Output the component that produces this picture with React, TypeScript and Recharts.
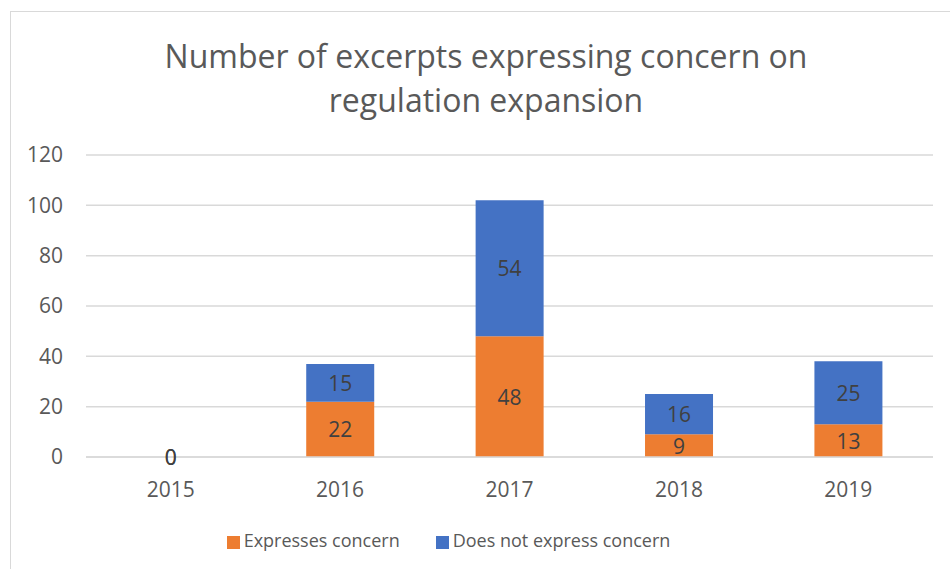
import React from 'react';
import { BarChart, Bar, XAxis, YAxis, CartesianGrid, Legend, LabelList } from 'recharts';

const years = ['2015', '2016', '2017', '2018', '2019'];
const expressesConcern = [0, 22, 48, 9, 13];
const doesNotExpress = [0, 15, 54, 16, 25];
const yTicks = [0, 20, 40, 60, 80, 100, 120];
const titleLines = ['Number of excerpts expressing concern on', 'regulation expansion'];

const data = years.map((y, i) => ({
  year: y,
  expresses: expressesConcern[i],
  notExpress: doesNotExpress[i],
}));

const FONT = '"Open Sans", "Noto Sans", sans-serif';
const seriesOrder: Record<string, number> = { expresses: 0, notExpress: 1 };

const renderLabel = (props: any) => {
  const { x, y, width, height, value } = props;
  if (value == null) return null;
  return (
    <text
      x={Number(x) + Number(width) / 2}
      y={Number(y) + Number(height) / 2}
      textAnchor="middle"
      dominantBaseline="central"
      fill="#404040"
      fontSize={21}
      fontFamily={FONT}
    >
      {value}
    </text>
  );
};

export default function App() {
  return (
    <div style={{ position: 'absolute', left: 0, top: 0, width: 950, height: 569, overflow: 'hidden', background: '#fff', fontFamily: FONT }}>
      <div style={{ position: 'absolute', left: 10, top: 11, width: 1000, height: 700, border: '1px solid #d9d9d9', boxSizing: 'border-box' }} />
      <div style={{ position: 'absolute', left: 0, top: 34, width: 972, textAlign: 'center', color: '#595959', fontSize: 32, lineHeight: '44px' }}>
        {titleLines.map((t) => (
          <div key={t}>{t}</div>
        ))}
      </div>
      <div style={{ position: 'absolute', left: 0, top: 0 }}>
        <BarChart
          width={950}
          height={569}
          data={data}
          margin={{ top: 155, right: 17, bottom: 17, left: 0 }}
          barCategoryGap="30%"
        >
          <CartesianGrid vertical={false} stroke="#d9d9d9" strokeWidth={1.5} />
          <XAxis
            dataKey="year"
            axisLine={{ stroke: '#d9d9d9', strokeWidth: 1.5 }}
            tickLine={false}
            tickSize={0}
            tickMargin={25}
            height={71}
            tick={{ fill: '#595959', fontSize: 21, fontFamily: FONT }}
          />
          <YAxis
            domain={[0, 120]}
            ticks={yTicks}
            axisLine={false}
            tickLine={false}
            tickSize={0}
            tickMargin={23}
            width={86}
            tick={{ fill: '#595959', fontSize: 21, fontFamily: FONT }}
          />
          <Legend
            verticalAlign="bottom"
            iconType="square"
            iconSize={13}
            itemSorter={(item: any) => seriesOrder[item.dataKey] ?? 0}
            wrapperStyle={{ fontSize: 18, fontFamily: FONT, color: '#595959' }}
            formatter={(v) => <span style={{ color: '#595959', marginRight: 26 }}>{v}</span>}
          />
          <Bar dataKey="expresses" name="Expresses concern" stackId="a" fill="#ED7D31" minPointSize={0.01} isAnimationActive={false}>
            <LabelList dataKey="expresses" content={renderLabel} />
          </Bar>
          <Bar dataKey="notExpress" name="Does not express concern" stackId="a" fill="#4472C4" minPointSize={0.01} isAnimationActive={false}>
            <LabelList dataKey="notExpress" content={renderLabel} />
          </Bar>
        </BarChart>
      </div>
    </div>
  );
}
